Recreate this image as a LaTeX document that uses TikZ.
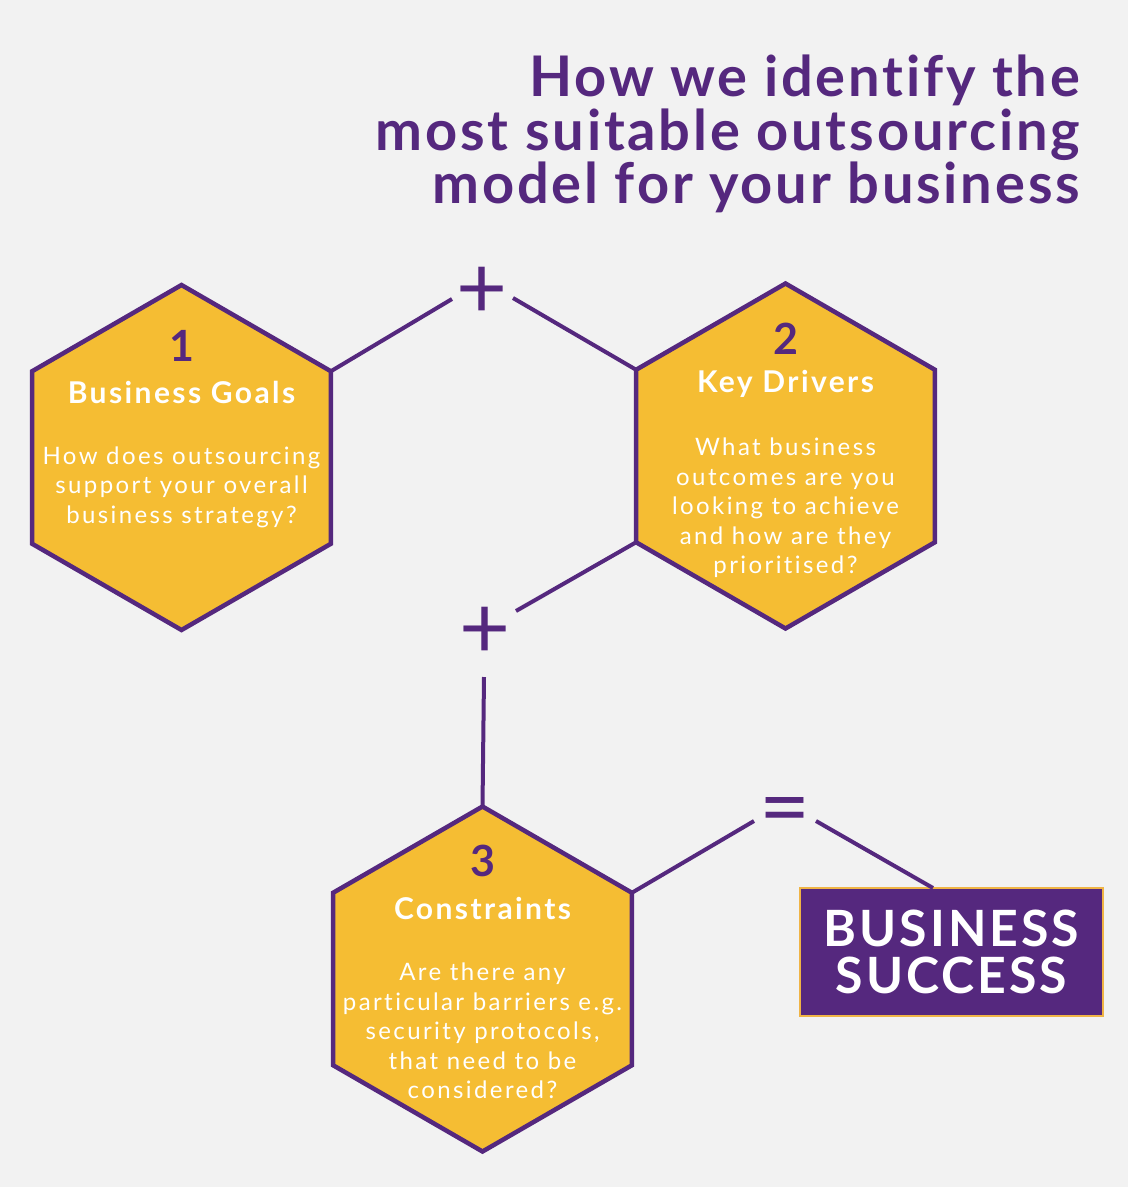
\documentclass[tikz,border=0pt]{standalone}
\usepackage{fontspec}
\setmainfont{Lato}[Ligatures=NoCommon]
\newfontfamily\titlefont{Lato}[LetterSpace=5,Ligatures=NoCommon]
\newfontfamily\headfont{Lato}[LetterSpace=8,Ligatures=NoCommon]
\newfontfamily\bodyfont{Lato}[LetterSpace=10,Ligatures=NoCommon]
\newfontfamily\boxfont{Lato}[LetterSpace=6,Ligatures=NoCommon]
\usetikzlibrary{shapes.geometric}
\definecolor{bg}{HTML}{F2F2F2}
\definecolor{purp}{HTML}{55287E}
\definecolor{gold}{HTML}{F5BD33}
\definecolor{boxedge}{HTML}{F0B445}
\tikzset{
  hexa/.style={regular polygon, regular polygon sides=6, shape border rotate=90,
    minimum size=345pt, inner sep=0pt, outer sep=0pt, draw=purp, line width=4.5pt, fill=gold},
  conn/.style={draw=purp, line width=4pt},
  numtxt/.style={text=purp, inner sep=0pt, font=\fontsize{43}{43}\selectfont\bfseries},
  headtxt/.style={text=white, inner sep=0pt, font=\headfont\fontsize{30}{30}\selectfont\bfseries},
  bodytxt/.style={text=white, inner sep=0pt, align=center, font=\bodyfont\fontsize{24}{29.5}\selectfont},
  titletxt/.style={text=purp, inner sep=0pt, anchor=base east, font=\titlefont\fontsize{56}{56}\selectfont\bfseries},
  opsign/.style={text=purp, inner sep=0pt, font=\fontsize{88}{88}\selectfont},
  resultbox/.style={fill=purp, draw=boxedge, line width=1.5pt, minimum width=303pt, minimum height=128pt,
    inner sep=0pt, text=white, align=center, font=\boxfont\fontsize{50}{47}\selectfont\bfseries}
}
\begin{document}
\begin{tikzpicture}[x=1pt,y=-1pt]
\fill[bg] (0,0) rectangle (1128,1187);
\useasboundingbox (0,0) rectangle (1128,1187);

% title
\node[titletxt] (ttl1) at (1080,96) {How we identify the};
\node[titletxt] (ttl2) at (1080,150) {most suitable outsourcing};
\node[titletxt] (ttl3) at (1080,203) {model for your business};

% hexagons
\node[hexa] (h1) at (181.5,457.5) {};
\node[hexa] (h2) at (785.5,456) {};
\node[hexa] (h3) at (482.5,979) {};

% result box
\node[resultbox] (res) at (951.5,952) {BUSINESS\\SUCCESS};

% operator signs
\node[opsign] (p1) at (482,293) {+};
\node[opsign] (p2) at (485,633) {+};
\node[opsign] (eq) at (785.5,817) {=};

% connector ends
\coordinate (c1a) at (452,299);
\coordinate (c1b) at (513,298);
\coordinate (c2a) at (516,611);
\coordinate (c2b) at (484,677);
\coordinate (c3a) at (754,821);
\coordinate (c3b) at (816,821);
\coordinate (c3c) at (933,888);

\draw[conn] (h1.30) -- (c1a);
\draw[conn] (c1b) -- (h2.150);
\draw[conn] (h2.210) -- (c2a);
\draw[conn] (c2b) -- (h3.north);
\draw[conn] (h3.30) -- (c3a);
\draw[conn] (c3b) -- (c3c);

% hexagon 1 text
\node[numtxt] (n1) at (181.5,346) {1};
\node[headtxt] (k1) at (181.5,392) {Business Goals};
\node[bodytxt] (b1) at (181.5,487) {How does outsourcing\\support your overall\\business strategy?};

% hexagon 2 text
\node[numtxt] (n2) at (785.5,339) {2};
\node[headtxt] (k2) at (785.5,384) {Key Drivers};
\node[bodytxt] (b2) at (785.5,508) {What business\\outcomes are you\\looking to achieve\\and how are they\\prioritised?};

% hexagon 3 text
\node[numtxt] (n3) at (482.5,861) {3};
\node[headtxt] (k3) at (482.5,908) {Constraints};
\node[bodytxt] (b3) at (482.5,1031) {Are there any\\particular barriers e.g.\\security protocols,\\that need to be\\considered?};
\end{tikzpicture}
\end{document}
